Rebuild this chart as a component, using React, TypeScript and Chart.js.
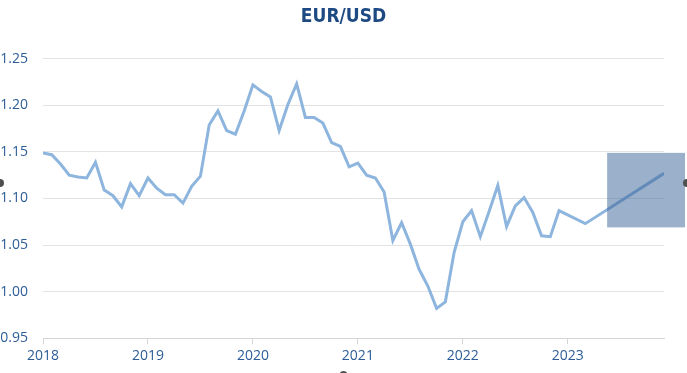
import React, { useEffect, useRef } from "react";
import { Chart, registerables } from "chart.js";

Chart.register(...registerables);

const startYear = 2018;
const titleText = "EUR/USD";

// Monthly values Jan 2018 .. Dec 2023 (null = no observation; line spans gaps)
const eurUsd: (number | null)[] = [
  1.149, 1.147, 1.137, 1.125, 1.123, 1.122, 1.139, 1.109, 1.103, 1.091, 1.116, 1.103,
  1.122, 1.111, 1.104, 1.104, 1.095, 1.113, 1.124, 1.179, 1.194, 1.173, 1.169, 1.194,
  1.222, 1.215, 1.209, 1.173, 1.201, 1.223, 1.187, 1.187, 1.181, 1.160, 1.156, 1.134,
  1.138, 1.125, 1.122, 1.107, 1.055, 1.074, 1.051, 1.024, 1.006, 0.982, 0.989, 1.042,
  1.075, 1.087, 1.059, 1.086, 1.114, 1.070, 1.092, 1.101, 1.085, 1.060, 1.059, 1.087,
  null, null, 1.073, null, null, null, null, null, null, null, null, 1.127,
];

const yTicks = [0.95, 1.0, 1.05, 1.1, 1.15, 1.2, 1.25];

// forecast range box: month-index span and value span
const bandMonths = [64.5, 73.4];
const bandValues = [1.069, 1.149];

const boxPlugin = {
  id: "forecastBox",
  afterDatasetsDraw(chart: any) {
    const { ctx, scales } = chart;
    const x0 = scales.x.getPixelForValue(bandMonths[0]);
    const x1 = scales.x.getPixelForValue(bandMonths[1]);
    const y0 = scales.y.getPixelForValue(bandValues[1]);
    const y1 = scales.y.getPixelForValue(bandValues[0]);
    ctx.save();
    ctx.fillStyle = "rgba(55, 98, 150, 0.5)";
    ctx.fillRect(x0, y0, x1 - x0, y1 - y0);
    ctx.restore();
  },
  afterDraw(chart: any) {
    const { ctx, width, height } = chart;
    ctx.save();
    ctx.fillStyle = "#505050";
    const pts = [
      [0, 183],
      [width, 183],
      [width / 2, height + 2],
    ];
    for (const [px, py] of pts) {
      ctx.beginPath();
      ctx.arc(px, py, 4, 0, Math.PI * 2);
      ctx.fill();
    }
    ctx.restore();
  },
};

export default function App() {
  const ref = useRef<HTMLCanvasElement | null>(null);

  useEffect(() => {
    if (!ref.current) return;
    const data = eurUsd.map((v, i) => ({ x: i, y: v }));
    const tickColor = "#2d5d97";
    const chart = new Chart(ref.current, {
      type: "line",
      data: {
        datasets: [
          {
            label: titleText,
            data,
            borderColor: "#8db5de",
            borderWidth: 3,
            pointRadius: 0,
            tension: 0,
            spanGaps: true,
            fill: false,
            yAxisID: "y",
          },
        ],
      },
      options: {
        animation: false,
        responsive: false,
        layout: { padding: { left: 0, right: 0, top: 0, bottom: 6 } },
        plugins: {
          legend: { display: false },
          tooltip: { enabled: false },
          title: {
            display: true,
            text: titleText,
            color: "#1d4a82",
            font: { family: "'DejaVu Sans Condensed', 'DejaVu Sans', sans-serif", size: 19, weight: "bold" },
            padding: { top: 6, bottom: 30 },
          },
        },
        scales: {
          x: {
            type: "linear",
            min: 0,
            max: eurUsd.length - 1,
            afterBuildTicks: (s: any) => {
              s.ticks = s.ticks.filter((t: any) => t.value % 12 === 0);
            },
            ticks: {
              stepSize: 12,
              padding: 3,
              color: tickColor,
              font: { family: "'Open Sans', sans-serif", size: 14 },
              callback: (v: any) => String(startYear + Math.round(Number(v) / 12)),
              maxRotation: 0,
              autoSkip: false,
            },
            grid: {
              drawOnChartArea: false,
              drawTicks: true,
              tickLength: 6,
              color: "#d6d6d6",
            },
            border: { display: true, color: "#d6d6d6" },
          },
          y: {
            min: yTicks[0],
            max: yTicks[yTicks.length - 1],
            afterFit: (s: any) => {
              s.width = 43;
            },
            afterBuildTicks: (s: any) => {
              s.ticks = yTicks.map((v) => ({ value: v }));
            },
            ticks: {
              padding: 15,
              color: tickColor,
              font: { family: "'Open Sans', sans-serif", size: 14 },
              callback: (v: any) => Number(v).toFixed(2),
            },
            grid: { drawTicks: false, color: "#e3e3e3" },
            border: { display: false },
          },
          yRight: {
            position: "right",
            min: yTicks[0],
            max: yTicks[yTicks.length - 1],
            afterFit: (s: any) => {
              s.width = 23;
            },
            ticks: { display: false },
            grid: { display: false, drawTicks: false },
            border: { display: false },
          },
        },
      },
      plugins: [boxPlugin],
    });
    return () => chart.destroy();
  }, []);

  return (
    <div style={{ position: "fixed", left: 0, top: 0, width: 687, height: 373, background: "#fff" }}>
      <canvas ref={ref} width={687} height={373} style={{ display: "block" }} />
    </div>
  );
}
